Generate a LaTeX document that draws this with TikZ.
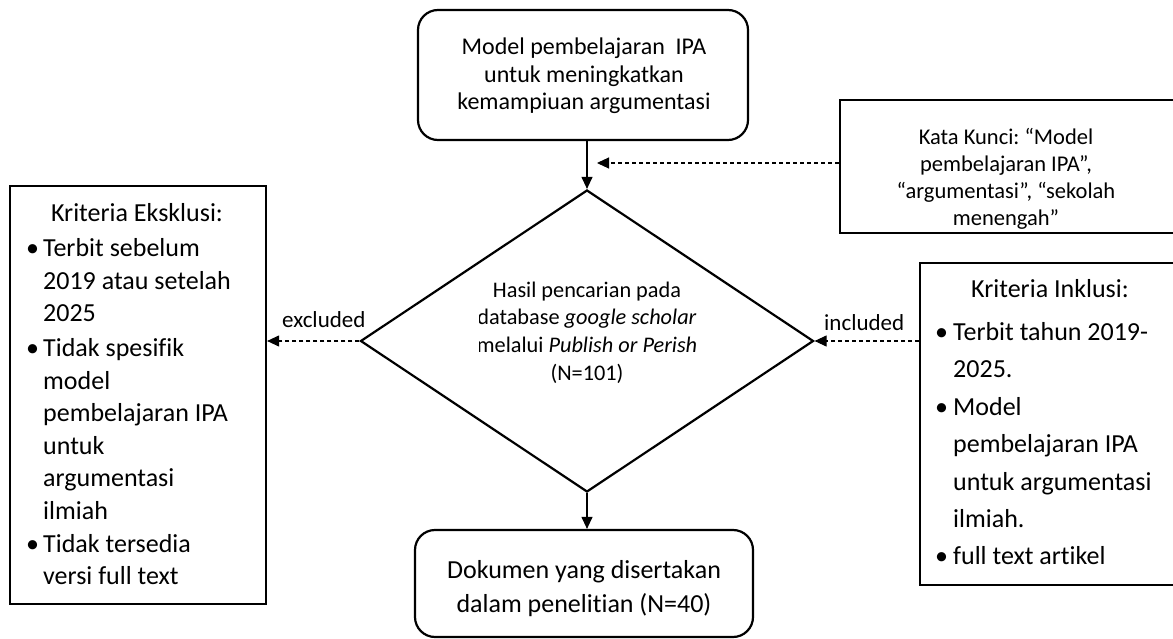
\documentclass[tikz,border=0pt]{standalone}
\usepackage{fontspec}
\setmainfont{Carlito}[Ligatures=NoCommon]
\usetikzlibrary{arrows.meta,shapes.geometric}
\newcommand{\bulA}{\makebox[17pt][l]{\textbullet}}
\newcommand{\indA}{\hspace*{17pt}}
\newcommand{\bulB}{\makebox[18pt][l]{\textbullet}}
\newcommand{\indB}{\hspace*{18pt}}
\frenchspacing
\begin{document}
\begin{tikzpicture}[x=1pt,y=-1pt,
  box/.style={draw,line width=2.2pt,inner sep=0pt},
  rbox/.style={box,rounded corners=20pt},
  conn/.style={line width=1.1pt,-{Triangle[length=12pt,width=11pt]}},
  dconn/.style={conn,dash pattern=on 4pt off 3pt},
  txt/.style={inner sep=0pt,anchor=base},
  ltxt/.style={inner sep=0pt,anchor=base west},
  lbl/.style={inner sep=0pt,anchor=base west,font=\fontsize{23}{27}\selectfont}]
\useasboundingbox (0,0) rectangle (1173,639);
\clip (0,0) rectangle (1173,639);

% boxes
\node[rbox,minimum width=330pt,minimum height=130pt] (top) at (583,75) {};
\node[box,minimum width=350pt,minimum height=133pt] (kata) at (1015,166.5) {};
\node[box,diamond,minimum width=453pt,minimum height=302pt] (dia) at (587,341) {};
\node[box,minimum width=256pt,minimum height=418pt] (left) at (138,395) {};
\node[box,minimum width=270pt,minimum height=322pt] (right) at (1055,424) {};
\node[rbox,minimum width=338pt,minimum height=107pt] (bot) at (584,583.5) {};

% texts
\node[txt] (toptxt) at (584,55) {\parbox[t]{330pt}{\centering\fontsize{24}{27.5}\selectfont
  Model pembelajaran\ \ IPA\\ untuk meningkatkan\\ kemampiuan argumentasi}};
\begin{scope}
  \clip (840,100) rectangle (1173,229);
  \node[txt] (katatxt) at (1006,145) {\parbox[t]{330pt}{\centering\fontsize{22.5}{26.7}\selectfont
    Kata Kunci: “Model\\ pembelajaran IPA”,\\ “argumentasi”, “sekolah\\ menengah”}};
\end{scope}
\begin{scope}
  \clip (479,250) rectangle (700,420);
  \node[txt] (diatxt) at (587,297) {\parbox[t]{300pt}{\centering\fontsize{22.3}{27.7}\selectfont
    Hasil pencarian pada\\ database \textit{google scholar}\\ melalui \textit{Publish or Perish}\\ (N=101)}};
\end{scope}
\node[txt,font=\fontsize{26}{32.5}\selectfont] (lefthead) at (137,222) {Kriteria Eksklusi:};
\node[ltxt] (leftlist) at (26,257) {\parbox[t]{235pt}{\raggedright\fontsize{26}{32.5}\selectfont
  \bulA Terbit sebelum\\ \indA 2019 atau setelah\\ \indA 2025\\[2.5pt]
  \bulA Tidak spesifik\\ \indA model\\ \indA pembelajaran IPA\\ \indA untuk\\ \indA argumentasi\\ \indA ilmiah\\[0.5pt]
  \bulA Tidak tersedia\\ \indA versi full text}};
\node[txt,font=\fontsize{26}{32.5}\selectfont] (righthead) at (1050,298) {Kriteria Inklusi:};
\node[ltxt] (rightlist) at (935,340) {\parbox[t]{240pt}{\raggedright\fontsize{26}{37.5}\selectfont
  \bulB Terbit tahun 2019-\\ \indB 2025.\\ \bulB Model\\ \indB pembelajaran IPA\\ \indB untuk argumentasi\\ \indB ilmiah.\\ \bulB full text artikel}};
\node[txt] (bottxt) at (584,578) {\parbox[t]{338pt}{\centering\fontsize{26}{34}\selectfont
  Dokumen yang disertakan\\ dalam penelitian (N=40)}};

% connectors
\draw[conn] (dia.north |- top.south) -- (dia.north);
\coordinate (kt) at (597,163);
\draw[dconn] (kata.west |- kt) -- (kt);
\draw[dconn] (dia.west) -- (left.east |- dia.west);
\draw[dconn] (right.west |- dia.east) -- (dia.east);
\draw[conn] (dia.south) -- (bot.north -| dia.south);

% labels
\node[lbl] (excl) at (282,327) {excluded};
\node[lbl] (incl) at (824,330) {included};
\end{tikzpicture}
\end{document}
